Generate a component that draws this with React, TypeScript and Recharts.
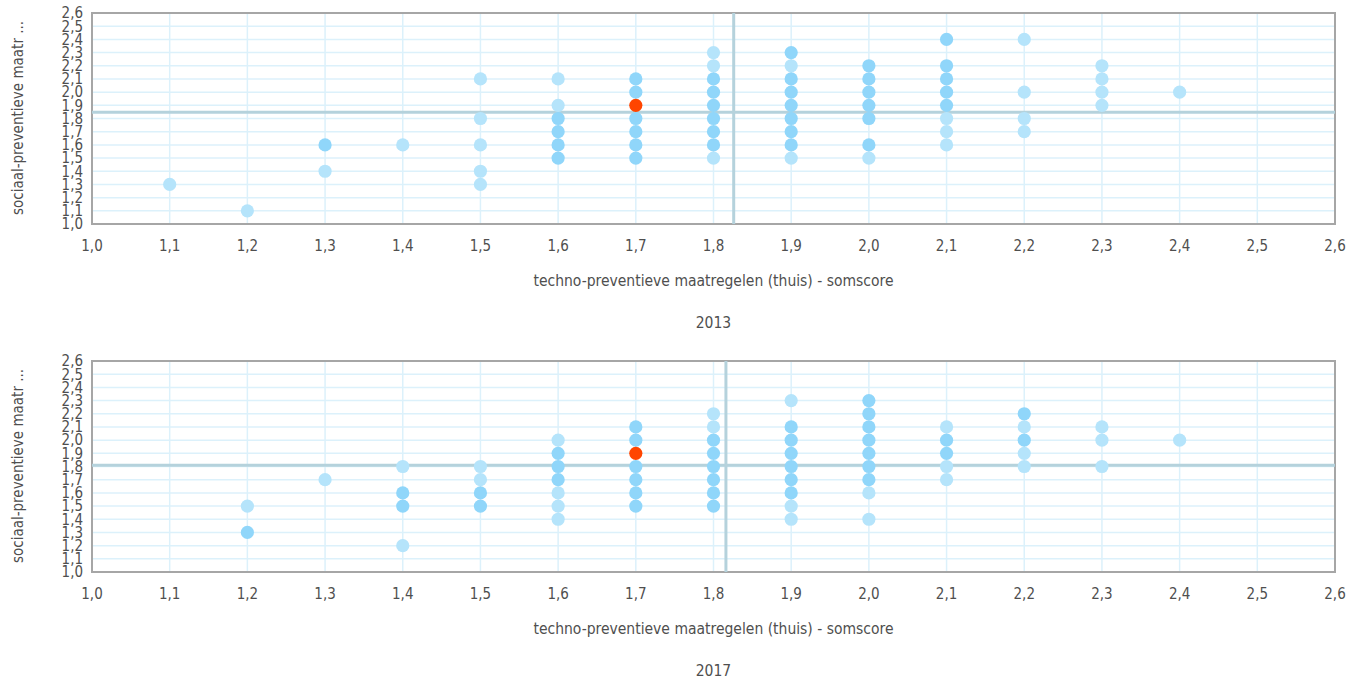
import React from "react";
import {
  ScatterChart,
  Scatter,
  XAxis,
  YAxis,
  CartesianGrid,
  ReferenceLine,
  ReferenceArea,
} from "recharts";

const axisTicks = [1.0, 1.1, 1.2, 1.3, 1.4, 1.5, 1.6, 1.7, 1.8, 1.9, 2.0, 2.1, 2.2, 2.3, 2.4, 2.5, 2.6];
const xAxisTitle = "techno-preventieve maatregelen (thuis) - somscore";
const yAxisTitle = "sociaal-preventieve maatr ...";

// 2013
const dark2013: number[][] = [
  [1.3, 1.6],
  [1.6, 1.8], [1.6, 1.7], [1.6, 1.6], [1.6, 1.5],
  [1.7, 2.1], [1.7, 2.0], [1.7, 1.8], [1.7, 1.7], [1.7, 1.6], [1.7, 1.5],
  [1.8, 2.1], [1.8, 2.0], [1.8, 1.9], [1.8, 1.8], [1.8, 1.7], [1.8, 1.6],
  [1.9, 2.3], [1.9, 2.1], [1.9, 2.0], [1.9, 1.9], [1.9, 1.8], [1.9, 1.7], [1.9, 1.6],
  [2.0, 2.2], [2.0, 2.1], [2.0, 2.0], [2.0, 1.9], [2.0, 1.8], [2.0, 1.6],
  [2.1, 2.4], [2.1, 2.2], [2.1, 2.1], [2.1, 2.0], [2.1, 1.9],
];
const light2013: number[][] = [
  [1.1, 1.3], [1.2, 1.1], [1.3, 1.4], [1.4, 1.6],
  [1.5, 2.1], [1.5, 1.8], [1.5, 1.6], [1.5, 1.4], [1.5, 1.3],
  [1.6, 2.1], [1.6, 1.9],
  [1.8, 2.3], [1.8, 2.2], [1.8, 1.5],
  [1.9, 2.2], [1.9, 1.5],
  [2.0, 1.5],
  [2.1, 1.8], [2.1, 1.7], [2.1, 1.6],
  [2.2, 2.4], [2.2, 2.0], [2.2, 1.8], [2.2, 1.7],
  [2.3, 2.2], [2.3, 2.1], [2.3, 2.0], [2.3, 1.9],
  [2.4, 2.0],
];
const highlight2013: number[][] = [[1.7, 1.9]];
const meanX2013 = 1.826;
const meanY2013 = 1.848;

// 2017
const dark2017: number[][] = [
  [1.2, 1.3],
  [1.4, 1.6], [1.4, 1.5],
  [1.5, 1.6], [1.5, 1.5],
  [1.6, 1.9], [1.6, 1.8], [1.6, 1.7],
  [1.7, 2.1], [1.7, 2.0], [1.7, 1.8], [1.7, 1.7], [1.7, 1.6], [1.7, 1.5],
  [1.8, 2.0], [1.8, 1.9], [1.8, 1.8], [1.8, 1.7], [1.8, 1.6], [1.8, 1.5],
  [1.9, 2.1], [1.9, 2.0], [1.9, 1.9], [1.9, 1.8], [1.9, 1.7], [1.9, 1.6],
  [2.0, 2.3], [2.0, 2.2], [2.0, 2.1], [2.0, 2.0], [2.0, 1.9], [2.0, 1.8], [2.0, 1.7],
  [2.1, 2.0], [2.1, 1.9],
  [2.2, 2.2], [2.2, 2.0],
];
const light2017: number[][] = [
  [1.2, 1.5], [1.3, 1.7],
  [1.4, 1.8], [1.4, 1.2],
  [1.5, 1.8], [1.5, 1.7],
  [1.6, 2.0], [1.6, 1.6], [1.6, 1.5], [1.6, 1.4],
  [1.8, 2.2], [1.8, 2.1],
  [1.9, 2.3], [1.9, 1.5], [1.9, 1.4],
  [2.0, 1.6], [2.0, 1.4],
  [2.1, 2.1], [2.1, 1.8], [2.1, 1.7],
  [2.2, 2.1], [2.2, 1.9], [2.2, 1.8],
  [2.3, 2.1], [2.3, 2.0], [2.3, 1.8],
  [2.4, 2.0],
];
const highlight2017: number[][] = [[1.7, 1.9]];
const meanX2017 = 1.816;
const meanY2017 = 1.81;

const FONT = "'Liberation Sans Narrow', 'DejaVu Sans Condensed', 'Noto Sans', sans-serif";
const TEXT = "#4f4f4f";

const toPts = (arr: number[][]) => arr.map(([x, y]) => ({ x, y }));
const fmt = (v: number) => v.toFixed(1).replace(".", ",");

const Dot = (color: string) => (props: any) => {
  const { cx, cy } = props;
  if (cx == null || cy == null) return null;
  return <circle cx={cx} cy={cy} r={6.6} fill={color} />;
};

function Panel({
  top,
  dark,
  light,
  highlight,
  mx,
  my,
  year,
}: {
  top: number;
  dark: number[][];
  light: number[][];
  highlight: number[][];
  mx: number;
  my: number;
  year: string;
}) {
  return (
    <div style={{ position: "absolute", left: 0, top, width: 1365, height: 340 }}>
      <ScatterChart width={1365} height={330} margin={{ top: 13, right: 30, bottom: 76, left: 0 }}>
        <CartesianGrid stroke="#dcf1fb" strokeWidth={1.5} />
        <XAxis
          type="number"
          dataKey="x"
          domain={[1, 2.6]}
          ticks={axisTicks}
          interval={0}
          height={30}
          tickFormatter={fmt}
          axisLine={false}
          tickLine={false}
          tick={{ fill: TEXT, fontSize: 15, fontFamily: FONT }}
          tickMargin={10}
          allowDataOverflow
        />
        <YAxis
          type="number"
          dataKey="y"
          domain={[1, 2.6]}
          ticks={axisTicks}
          interval={0}
          tickFormatter={fmt}
          axisLine={false}
          tickLine={false}
          width={92}
          tick={{ fill: TEXT, fontSize: 15, fontFamily: FONT }}
          tickMargin={3}
          allowDataOverflow
        />
        <ReferenceLine x={mx} stroke="#b5d2dc" strokeWidth={3} />
        <ReferenceLine y={my} stroke="#b5d2dc" strokeWidth={3} />
        <Scatter data={toPts(light)} fill="#b5e4fb" shape={Dot("#b5e4fb")} isAnimationActive={false} />
        <Scatter data={toPts(dark)} fill="#90d6fa" shape={Dot("#90d6fa")} isAnimationActive={false} />
        <Scatter data={toPts(highlight)} fill="#ff4500" shape={Dot("#ff4500")} isAnimationActive={false} />
        <ReferenceArea x1={1} x2={2.6} y1={1} y2={2.6} fill="none" stroke="#a6a6a6" strokeWidth={2} fillOpacity={0} />
      </ScatterChart>
      <div
        style={{
          position: "absolute",
          left: 92,
          width: 1243,
          top: 272,
          textAlign: "center",
          fontFamily: FONT,
          fontSize: 15.5,
          color: TEXT,
        }}
      >
        {xAxisTitle}
      </div>
      <div
        style={{
          position: "absolute",
          left: 92,
          width: 1243,
          top: 314,
          textAlign: "center",
          fontFamily: FONT,
          fontSize: 15.5,
          color: TEXT,
        }}
      >
        {year}
      </div>
      <div
        style={{
          position: "absolute",
          left: 18,
          top: 118,
          width: 0,
          height: 0,
        }}
      >
        <div
          style={{
            position: "absolute",
            transform: "translate(-50%, -50%) rotate(-90deg)",
            whiteSpace: "nowrap",
            fontFamily: FONT,
            fontSize: 15,
            color: TEXT,
          }}
        >
          {yAxisTitle}
        </div>
      </div>
    </div>
  );
}

export default function App() {
  return (
    <div style={{ position: "absolute", left: 0, top: 0, width: 1365, height: 682, background: "#fff", overflow: "hidden" }}>
      <Panel top={0} dark={dark2013} light={light2013} highlight={highlight2013} mx={meanX2013} my={meanY2013} year="2013" />
      <Panel top={348} dark={dark2017} light={light2017} highlight={highlight2017} mx={meanX2017} my={meanY2017} year="2017" />
    </div>
  );
}
